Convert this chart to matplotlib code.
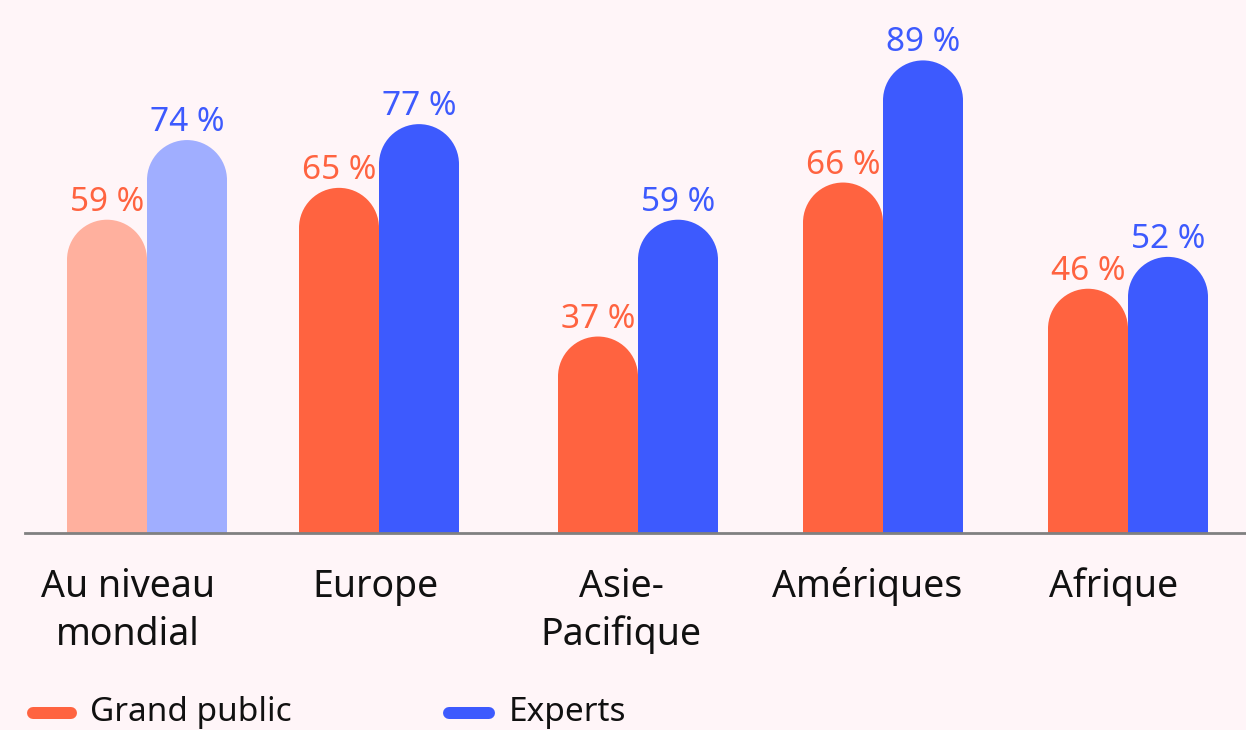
import matplotlib
matplotlib.use("Agg")
import matplotlib.pyplot as plt
from matplotlib.patches import Ellipse
from matplotlib.lines import Line2D

# ---- data ----
categories = ["Au niveau\nmondial", "Europe", "Asie-\nPacifique", "Amériques", "Afrique"]
grand_public = [59, 65, 37, 66, 46]
experts = [74, 77, 59, 89, 52]
series_names = ["Grand public", "Experts"]

# ---- style / layout ----
FONT = "Noto Sans"
BG = "#FFF5F8"
ORANGE = "#FF6340"
BLUE = "#3D5AFE"
ORANGE_LIGHT = "#FFB09E"
BLUE_LIGHT = "#A0AEFF"
W, H, DPI = 1246, 730, 100
group_x = [147, 379, 638, 883, 1128]        # pixel centers of groups
label_dx = [-19, -4, -17, -16, -14]          # label offsets (px)
bar_w = 80
px_per_unit = 5.31
base_px = 533
ax_left = 25

fig = plt.figure(figsize=(W / DPI, H / DPI), dpi=DPI, facecolor=BG)
ax = fig.add_axes([ax_left / W, (H - base_px) / H, (W - ax_left) / W, base_px / H])
ax.set_facecolor(BG)
ax.set_xlim(ax_left, W)
ax.set_ylim(0, base_px / px_per_unit)
ax.axis("off")

r_y = (bar_w / 2) / px_per_unit  # cap radius in data units


def rounded_bar(xleft, val, color):
    ax.bar([xleft + bar_w / 2], [val - r_y], width=bar_w, bottom=0,
           color=color, linewidth=0, zorder=2)
    ax.add_patch(Ellipse((xleft + bar_w / 2, val - r_y), bar_w, 2 * r_y,
                         facecolor=color, edgecolor="none", linewidth=0, zorder=2))


for i, (gx, gp, ex) in enumerate(zip(group_x, grand_public, experts)):
    oc = ORANGE_LIGHT if i == 0 else ORANGE
    bc = BLUE_LIGHT if i == 0 else BLUE
    rounded_bar(gx - bar_w, gp, oc)
    rounded_bar(gx, ex, bc)
    ax.annotate(f"{gp} %", xy=(gx - bar_w / 2, gp), xytext=(0, 9),
                textcoords="offset pixels", ha="center", va="baseline",
                fontsize=24, color=ORANGE, family=FONT, zorder=3)
    ax.annotate(f"{ex} %", xy=(gx + bar_w / 2, ex), xytext=(0, 9),
                textcoords="offset pixels", ha="center", va="baseline",
                fontsize=24, color=BLUE, family=FONT, zorder=3)
    for j, line in enumerate(categories[i].split("\n")):
        ax.annotate(line, xy=(gx, 0), xytext=(label_dx[i], -64 - j * 48),
                    textcoords="offset pixels", ha="center", va="baseline",
                    fontsize=27, color="#111111", family=FONT,
                    annotation_clip=False)

# baseline axis line
ax.axhline(0, color="#808080", linewidth=2.0, zorder=4, clip_on=False)

# legend (manual)
def fx(px):
    return px / W


def fy(py):
    return (H - py) / H


for (x0, x1, tx, col, name) in [(33, 71, 90, ORANGE, series_names[0]),
                                (449, 489, 509, BLUE, series_names[1])]:
    fig.add_artist(Line2D([fx(x0), fx(x1)], [fy(713), fy(713)], color=col,
                          linewidth=12 * 72 / DPI, solid_capstyle="round",
                          transform=fig.transFigure))
    fig.text(fx(tx), fy(721), name, ha="left", va="baseline", fontsize=24,
             color="#111111", family=FONT)

fig.savefig("out.png", dpi=DPI, facecolor=BG)
